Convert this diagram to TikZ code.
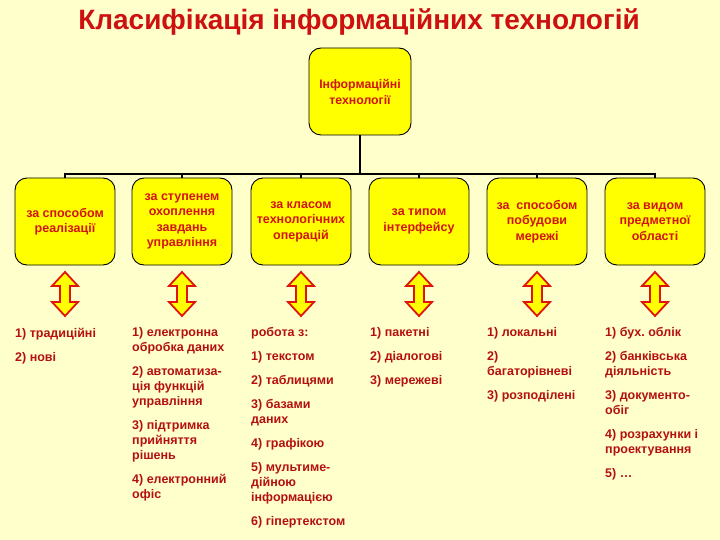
\documentclass[tikz,border=0pt]{standalone}
\usepackage{fontspec}
\setmainfont{Liberation Sans}
\frenchspacing
\definecolor{bg}{RGB}{255,255,204}
\definecolor{boxfill}{RGB}{255,255,0}
\definecolor{titlered}{RGB}{205,16,16}
\definecolor{boxred}{RGB}{210,20,20}
\definecolor{listred}{RGB}{180,16,16}
\definecolor{arrowred}{RGB}{225,20,10}
\tikzset{
  cbox/.style={draw=black, line width=0.9pt, fill=boxfill, rounded corners=12pt,
    minimum width=100pt, minimum height=87pt, align=center, text=boxred,
    font=\fontsize{12.5}{15.5}\bfseries\selectfont, inner sep=1pt},
  listtext/.style={anchor=north west, align=left, text=listred, inner sep=0pt,
    font=\fontsize{12.5}{15}\bfseries\selectfont},
  bus/.style={draw=black, line width=1.8pt},
  dblarrow/.style={fill=boxfill, draw=arrowred, line width=1.8pt, line join=miter}
}
\begin{document}
\begin{tikzpicture}[x=1pt,y=-1pt]
\fill[bg] (0,0) rectangle (720,540);
\useasboundingbox (0,0) rectangle (720,540);

\node[text=titlered, font=\fontsize{28}{32}\bfseries\selectfont] (title) at (359,22) {Класифікація інформаційних технологій};

\node[cbox, minimum height=87pt, minimum width=102pt, font=\fontsize{12.3}{16}\bfseries\selectfont] (root) at (360,91.5) {Інформаційні\\технології};

\node[cbox] (c1) at (65,221.5) {за способом\\реалізації};
\node[cbox] (c2) at (182,221.5) {за ступенем\\охоплення\\завдань\\управління};
\node[cbox] (c3) at (301,221.5) {за класом\\технологічних\\операцій};
\node[cbox] (c4) at (419,221.5) {за типом\\інтерфейсу};
\node[cbox] (c5) at (537,221.5) {за~ способом\\побудови\\мережі};
\node[cbox] (c6) at (655,221.5) {за видом\\предметної\\області};

\coordinate (busmid) at (360,174);
\draw[bus] (root.south) -- (busmid);
\draw[bus] (c1.north) |- (busmid) -| (c6.north);
\foreach \n in {c2,c3,c4,c5} \draw[bus] (\n.north) -- (\n.north |- busmid);

\foreach \n/\c in {a1/65,a2/182,a3/301,a4/419,a5/537,a6/655}{
  \draw[dblarrow] (\c,272) -- (\c+13,286) -- (\c+5,286) -- (\c+5,302) -- (\c+13,302)
    -- (\c,316) -- (\c-13,302) -- (\c-5,302) -- (\c-5,286) -- (\c-13,286) -- cycle;
  \coordinate (\n) at (\c,316);
}

\node[listtext] (l1) at (15,327.5) {1) традиційні\\[9pt]2) нові};
\node[listtext] (l2) at (132,327.5) {1) електронна\\обробка даних\\[9pt]2) автоматиза-\\ція функцій\\управління\\[9pt]3) підтримка\\прийняття\\рішень\\[9pt]4) електронний\\офіс};
\node[listtext] (l3) at (251,327.5) {робота з:\\[9pt]1) текстом\\[9pt]2) таблицями\\[9pt]3) базами\\даних\\[9pt]4) графікою\\[9pt]5) мультиме-\\дійною\\інформацією\\[9pt]6) гіпертекстом};
\node[listtext] (l4) at (370,327.5) {1) пакетні\\[9pt]2) діалогові\\[9pt]3) мережеві};
\node[listtext] (l5) at (487,327.5) {1) локальні\\[9pt]2)\\багаторівневі\\[9pt]3) розподілені};
\node[listtext] (l6) at (605,327.5) {1) бух. облік\\[9pt]2) банківська\\діяльність\\[9pt]3) документо-\\обіг\\[9pt]4) розрахунки і\\проектування\\[9pt]5) …};
\end{tikzpicture}
\end{document}
